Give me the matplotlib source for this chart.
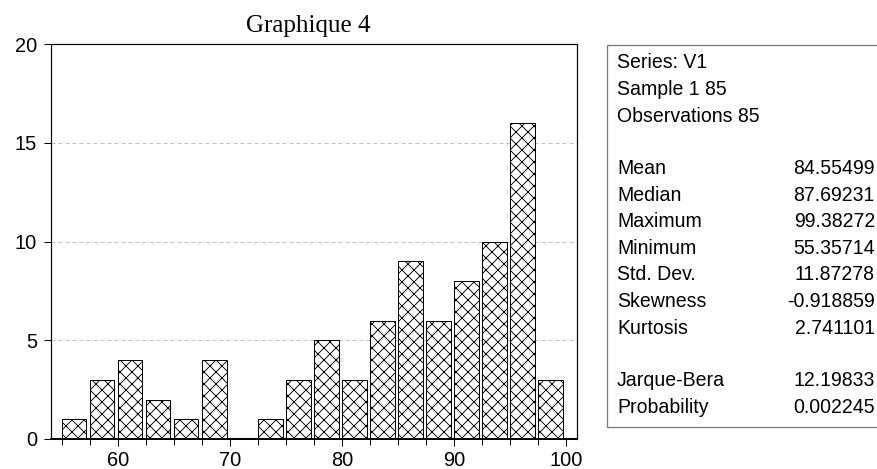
import numpy as np
import matplotlib
matplotlib.use("Agg")
import matplotlib.pyplot as plt
from matplotlib.patches import Rectangle

# histogram data (bins of 2.5 from 55 to 100)
bin_start = 55.0
bin_width = 2.5
counts = [1, 3, 4, 2, 1, 4, 0, 1, 3, 5, 3, 6, 9, 6, 8, 10, 16, 3]

# descriptive statistics box
head_lines = ["Series: V1", "Sample 1 85", "Observations 85"]
stat_names = ["Mean", "Median", "Maximum", "Minimum", "Std. Dev.", "Skewness", "Kurtosis"]
stat_values = ["84.55499", "87.69231", "99.38272", "55.35714", "11.87278", "-0.918859", "2.741101"]
test_names = ["Jarque-Bera", "Probability"]
test_values = ["12.19833", "0.002245"]

W, H = 877, 469
DPI = 72
plt.rcParams['hatch.linewidth'] = 0.9
plt.rcParams['font.family'] = ['Liberation Sans', 'DejaVu Sans']

fig = plt.figure(figsize=(W / DPI, H / DPI), dpi=DPI)
ax = fig.add_axes([51 / W, 1 - 439 / H, 526 / W, 395 / H])

edges = bin_start + bin_width * np.arange(len(counts) + 1)
counts = np.array(counts)
keep = counts > 0   # empty bins draw nothing
ax.bar(edges[:-1][keep], counts[keep], width=2.2, align='edge', facecolor='white',
       edgecolor='black', linewidth=1.0, hatch='xx', zorder=2)

ax.set_xlim(54.05, 100.95)
ax.set_ylim(0, 20)
ax.set_yticks([0, 5, 10, 15, 20])
ax.set_xticks([60, 70, 80, 90, 100])
ax.set_xticks(edges[:-1], minor=True)
for y in [5, 10, 15]:
    ax.axhline(y, color='#c4c4c4', linewidth=1.0, linestyle=(0, (4, 3)), zorder=1)

ax.tick_params(axis='both', which='both', direction='out', length=7, width=1.0,
               labelsize=20, colors='black')
ax.tick_params(axis='y', pad=7)
ax.tick_params(axis='x', which='minor', length=6)
ax.tick_params(axis='x', pad=5)
for s in ['top', 'right', 'left']:
    ax.spines[s].set_linewidth(1.2)
ax.spines['bottom'].set_linewidth(2.0)
for s in ax.spines.values():
    s.set_zorder(4)

fig.text(308 / W, 1 - 32 / H, "Graphique 4", family='Liberation Serif', fontsize=25,
         ha='center', va='baseline')

# stats panel
box = Rectangle((607 / W, 1 - 427 / H), 300 / W, 382 / H, transform=fig.transFigure,
                facecolor='none', edgecolor='#7a7a7a', linewidth=1.3)
fig.patches.append(box)

x_lab = 617 / W
x_val = 875 / W
y0 = 63
step = 26.5
fs = 19.5
for i, t in enumerate(head_lines):
    fig.text(x_lab, 1 - (y0 + i * step) / H, t, fontsize=fs, va='center')
for i, (n, v) in enumerate(zip(stat_names, stat_values)):
    yy = 1 - (y0 + (4 + i) * step) / H
    fig.text(x_lab, yy, n, fontsize=fs, va='center')
    fig.text(x_val, yy, v, fontsize=fs, va='center', ha='right')
for i, (n, v) in enumerate(zip(test_names, test_values)):
    yy = 1 - (y0 + (12 + i) * step) / H
    fig.text(x_lab, yy, n, fontsize=fs, va='center')
    fig.text(x_val, yy, v, fontsize=fs, va='center', ha='right')

fig.savefig("out.png", dpi=DPI)
